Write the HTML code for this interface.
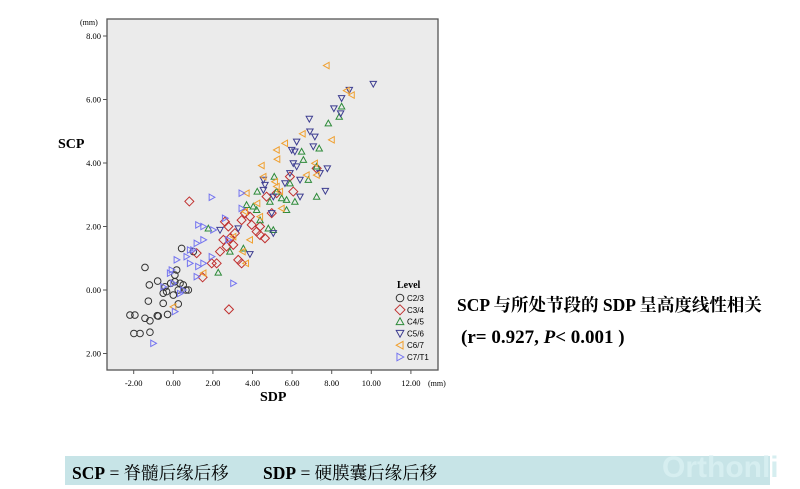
<!DOCTYPE html>
<html><head><meta charset="utf-8"><style>
body{margin:0;background:#fff;width:800px;height:489px;overflow:hidden;position:relative;font-family:"Liberation Serif","Noto Serif CJK SC",serif}
.t{position:absolute;white-space:nowrap}
</style></head><body>
<svg width="800" height="489" style="position:absolute;left:0;top:0" id="chart" font-family="Liberation Serif, serif">
<rect x="107" y="19" width="331" height="351" fill="#ebebeb" stroke="#555" stroke-width="1.3"/>
<g id="axes"></g><g id="marks"></g><g id="legend"></g>
<text x="58" y="148" font-size="14" font-weight="bold">SCP</text>
<text x="260" y="401" font-size="14" font-weight="bold">SDP</text>
<text x="80" y="25" font-size="8">(mm)</text>
<text x="428" y="386" font-size="8">(mm)</text>
</svg>
<div class="t" style="left:457px;top:292px;font-size:17.5px;font-weight:bold">SCP 与所处节段的 SDP 呈高度线性相关</div>
<div class="t" style="left:461px;top:327px;font-size:19px;font-weight:bold">(r= 0.927, <i>P</i>&lt; 0.001 )</div>
<div style="position:absolute;left:65px;top:456px;width:705px;height:29px;background:#c7e4e7"></div>
<div class="t" style="left:72px;top:460px;font-size:17.5px"><b>SCP</b> = 脊髓后缘后移</div>
<div class="t" style="left:263px;top:460px;font-size:17.5px"><b>SDP</b> = 硬膜囊后缘后移</div>
<div class="t" style="left:662px;top:451px;font-size:30px;font-weight:bold;color:#d6eef0;font-family:'Liberation Sans',sans-serif">Orthonli</div>
<script>
const xTicks=[-2,0,2,4,6,8,10,12];
const yTicks=[-2,0,2,4,6,8];
const levels=["C2/3","C3/4","C4/5","C5/6","C6/7","C7/T1"];
const c23x=[-1.43,-1.21,-0.79,-2.19,-1.94,-1.99,-1.68,-1.43,-1.18,-0.81,-0.29,-1.18,-1.26,-0.51,-0.42,-0.34,-0.13,0.08,0.17,0.42,0.25,0.34,0.5,0.64,0.76,0,-0.51,0.25,1.01,0.08,-0.76];
const c23y=[0.71,0.16,0.28,-0.79,-0.79,-1.37,-1.37,-0.89,-0.97,-0.81,-0.77,-1.33,-0.35,-0.1,0.1,-0.05,0.21,0.26,0.63,1.31,0,0.21,0.16,0,0,-0.16,-0.42,-0.44,1.21,0.47,-0.82];
const c34x=[0.81,2.81,1.48,1.18,2.19,2.36,2.61,2.78,3.03,3.11,3.28,3.45,3.45,3.62,3.87,3.96,4.21,4.38,4.63,4.71,4.97,5.22,5.89,6.06,7.24,2.53,2.69,1.94,2.86,4.38];
const c34y=[2.79,-0.61,0.4,1.16,0.84,1.21,2.15,2.0,1.42,1.79,0.95,0.84,2.2,2.42,2.31,2.05,1.84,1.73,1.63,2.94,2.42,3.05,3.57,3.1,3.83,1.58,1.37,0.84,1.63,2.0];
const c45x=[1.77,2.27,2.86,3.54,3.7,4.04,4.21,4.38,4.24,5.1,4.88,5.05,4.8,5.22,5.47,5.72,5.89,6.14,6.48,6.57,6.82,7.24,7.37,7.83,8.38,8.5,7.24,5.72];
const c45y=[1.94,0.55,1.21,1.31,2.68,2.63,2.52,2.2,3.1,3.57,2.78,1.89,1.94,3.1,2.89,2.52,3.36,2.78,4.36,4.1,3.47,2.94,4.46,5.25,5.46,5.78,3.89,2.84];
const c56x=[10.1,8.89,8.5,8.11,8.45,6.87,6.9,7.15,6.23,5.98,6.14,7.07,6.06,6.23,7.78,7.41,6.4,5.64,4.55,4.63,4.55,5.05,6.4,7.68,3.87,5.05,4.97,5.89,2.36,3.28];
const c56y=[6.49,6.3,6.04,5.72,5.56,5.39,4.99,4.83,4.67,4.41,4.36,4.52,3.99,3.89,3.83,3.68,3.47,3.36,3.47,3.31,3.15,2.94,2.94,3.12,1.13,1.79,2.42,3.68,1.89,1.94];
const c67x=[7.74,8.75,9.01,8.0,6.53,5.64,5.22,5.25,4.46,4.55,5.13,5.22,5.39,6.73,7.15,7.24,5.47,4.24,3.7,3.62,3.87,3.67,3.5,1.52,0,3.03,4.38];
const c67y=[7.07,6.28,6.14,4.73,4.92,4.62,4.41,4.12,3.92,3.57,3.41,3.26,3.1,3.62,3.99,3.62,2.57,2.73,3.05,2.47,1.58,0.84,1.21,0.53,-0.53,1.68,2.31];
const c71x=[1.94,3.45,3.03,-1.01,0.08,1.26,1.52,2.02,1.52,1.18,1.01,0.67,0.17,0.84,1.26,1.52,1.94,-0.08,-0.17,0.34,0.5,0,-0.5,1.18,3.45,2.61,2.78,0.84];
const c71y=[2.92,3.05,0.21,-1.68,-0.68,2.05,2.0,1.89,1.58,1.47,1.26,1.05,0.95,0.84,0.74,0.84,1.05,0.63,0.53,-0.11,0,0.21,0.1,0.42,2.57,2.26,1.58,1.26];
const X=v=>173.3+19.8*v, Y=v=>290-31.75*v;
const NS="http://www.w3.org/2000/svg";
const colors=["#333","#c0302f","#2e8b3a","#3c3c90","#f0a030","#7474f0"];
function shape(k,cx,cy,s){
  const p=document.createElementNS(NS,k===0?"circle":"polygon");
  if(k===0){p.setAttribute("cx",cx);p.setAttribute("cy",cy);p.setAttribute("r",s);}
  else{let pts;
    if(k===1)pts=[[cx,cy-s],[cx+s,cy],[cx,cy+s],[cx-s,cy]];
    else if(k===2)pts=[[cx,cy-s],[cx+s,cy+s*0.8],[cx-s,cy+s*0.8]];
    else if(k===3)pts=[[cx-s,cy-s*0.8],[cx+s,cy-s*0.8],[cx,cy+s]];
    else if(k===4)pts=[[cx-s,cy],[cx+s*0.8,cy-s],[cx+s*0.8,cy+s]];
    else pts=[[cx+s,cy],[cx-s*0.8,cy-s],[cx-s*0.8,cy+s]];
    p.setAttribute("points",pts.map(a=>a.join(",")).join(" "));}
  p.setAttribute("fill","none");p.setAttribute("stroke",colors[k]);p.setAttribute("stroke-width","1");
  return p;
}
const axes=document.getElementById("axes");
xTicks.forEach(v=>{
  const l=document.createElementNS(NS,"line");
  
  
  l.setAttribute("x1",X(v));l.setAttribute("x2",X(v));l.setAttribute("y1",370);l.setAttribute("y2",374);l.setAttribute("stroke","#555");axes.appendChild(l);
  const t=document.createElementNS(NS,"text");
  
  
  t.setAttribute("x",X(v));t.setAttribute("y",386);t.setAttribute("font-size","8.5");t.setAttribute("text-anchor","middle");t.textContent=v.toFixed(2);axes.appendChild(t);
});
yTicks.forEach(v=>{
  const l=document.createElementNS(NS,"line");
  
  
  l.setAttribute("x1",103);l.setAttribute("x2",107);l.setAttribute("y1",Y(v));l.setAttribute("y2",Y(v));l.setAttribute("stroke","#555");axes.appendChild(l);
  const t=document.createElementNS(NS,"text");
  
  
  t.setAttribute("x",101);t.setAttribute("y",Y(v)+3);t.setAttribute("font-size","8.5");t.setAttribute("text-anchor","end");t.textContent=Math.abs(v).toFixed(2);axes.appendChild(t);
});
const series=[[c23x,c23y],[c34x,c34y],[c45x,c45y],[c56x,c56y],[c67x,c67y],[c71x,c71y]];
const sizes=[3.3,4.5,3.2,3.2,3.2,3.2];
const marks=document.getElementById("marks");
series.forEach((s,k)=>{s[0].forEach((xv,i)=>{
  const p=shape(k,X(xv),Y(s[1][i]),sizes[k]);
  
  
  marks.appendChild(p);});});
const lg=document.getElementById("legend");
const lt=document.createElementNS(NS,"text");


lt.setAttribute("x",397);lt.setAttribute("y",288);lt.setAttribute("font-size","10");lt.setAttribute("font-weight","bold");lt.textContent="Level";lg.appendChild(lt);
levels.forEach((n,k)=>{
  const y=298+11.8*k;
  const p=shape(k,400,y,k===1?5:3.8);
  
  
  lg.appendChild(p);
  const t=document.createElementNS(NS,"text");
  
  
  t.setAttribute("x",407);t.setAttribute("y",y+3);t.setAttribute("font-size","8");t.setAttribute("font-family","Liberation Sans, sans-serif");t.textContent=n;lg.appendChild(t);
});
</script>
</body></html>
